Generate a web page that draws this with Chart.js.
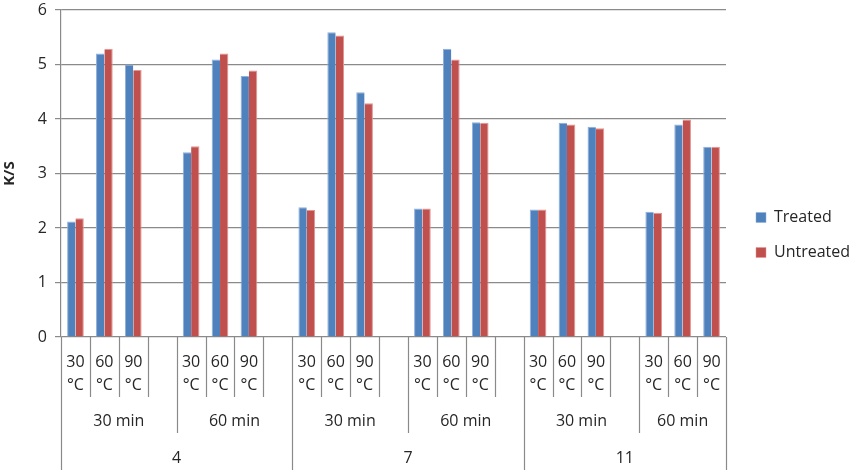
<!DOCTYPE html>
<html>
<head>
<meta charset="utf-8">
<title>K/S</title>
<script src="https://cdn.jsdelivr.net/npm/chart.js@4.4.1/dist/chart.umd.min.js"></script>
<style>
  html, body { margin: 0; padding: 0; background: #fff; }
  #wrap { width: 850px; height: 470px; position: relative; }
</style>
</head>
<body>
<div id="wrap"><canvas id="chart"></canvas></div>
<script>
// one slot per category, empty slot = gap between time groups
const temperatures = [
    '30 °C', '60 °C', '90 °C', '', '30 °C', '60 °C', '90 °C', '',
    '30 °C', '60 °C', '90 °C', '', '30 °C', '60 °C', '90 °C', '',
    '30 °C', '60 °C', '90 °C', '', '30 °C', '60 °C', '90 °C'
];
const times = [
    '30 min', '30 min', '30 min', '30 min', '60 min', '60 min', '60 min', '60 min',
    '30 min', '30 min', '30 min', '30 min', '60 min', '60 min', '60 min', '60 min',
    '30 min', '30 min', '30 min', '30 min', '60 min', '60 min', '60 min'
];
const phValues = [
    '4', '4', '4', '4', '4', '4', '4', '4',
    '7', '7', '7', '7', '7', '7', '7', '7',
    '11', '11', '11', '11', '11', '11', '11'
];
const treated = [
    2.12, 5.2, 5.0, null, 3.39, 5.09, 4.79, null,
    2.38, 5.59, 4.49, null, 2.36, 5.29, 3.94, null,
    2.34, 3.93, 3.86, null, 2.30, 3.90, 3.49
];
const untreated = [
    2.18, 5.29, 4.9, null, 3.5, 5.2, 4.89, null,
    2.33, 5.53, 4.29, null, 2.36, 5.09, 3.93, null,
    2.34, 3.90, 3.83, null, 2.28, 3.99, 3.49
];
const yMin = 0;
const yMax = 6;
const yStep = 1;

const gridColor = '#8a8a8a';
const textColor = '#262626';
const fontFamily = '"Open Sans", "Noto Sans", sans-serif';

// draws the three-level category table under the plot
const categoryTable = {
    id: 'categoryTable',
    afterDraw(chart) {
        const ctx = chart.ctx;
        const xs = chart.scales.x;
        const top = chart.chartArea.bottom;
        const n = temperatures.length;
        const slot = xs.getPixelForValue(1) - xs.getPixelForValue(0);
        const edge = i => xs.getPixelForValue(i) - slot / 2;

        ctx.save();
        ctx.strokeStyle = gridColor;
        ctx.lineWidth = 1.2;
        for (let i = 0; i <= n; i++) {
            let depth = 60;
            if (i === 0 || i === n || phValues[i] !== phValues[i - 1]) depth = chart.height - top;
            else if (times[i] !== times[i - 1]) depth = 96;
            const x = Math.round(edge(i)) + 0.5;
            ctx.beginPath();
            ctx.moveTo(x, top);
            ctx.lineTo(x, top + depth);
            ctx.stroke();
        }

        ctx.fillStyle = textColor;
        ctx.font = '16px ' + fontFamily;
        ctx.textAlign = 'center';
        ctx.textBaseline = 'middle';

        temperatures.forEach((t, i) => {
            if (!t) return;
            const parts = t.split(' ');
            const x = xs.getPixelForValue(i);
            ctx.fillText(parts[0], x, top + 25);
            ctx.fillText(parts[1], x, top + 48);
        });

        function drawRuns(keyOf, labelOf, y) {
            let start = 0;
            for (let i = 1; i <= n; i++) {
                if (i === n || keyOf(i) !== keyOf(start)) {
                    const x = (edge(start) + edge(i)) / 2;
                    ctx.fillText(labelOf(start), x, y);
                    start = i;
                }
            }
        }
        drawRuns(i => phValues[i] + '|' + times[i], i => times[i], top + 84);
        drawRuns(i => phValues[i], i => phValues[i], top + 121);
        ctx.restore();
    }
};

const ctx = document.getElementById('chart').getContext('2d');
new Chart(ctx, {
    type: 'bar',
    data: {
        labels: temperatures,
        datasets: [
            {
                label: 'Treated',
                data: treated,
                backgroundColor: '#4F81BD',
                borderColor: '#8FB0DA',
                borderWidth: { top: 1, left: 1, right: 0, bottom: 0 },
                borderSkipped: 'bottom'
            },
            {
                label: 'Untreated',
                data: untreated,
                backgroundColor: '#C0504D',
                borderColor: '#E39592',
                borderWidth: { top: 1, left: 0, right: 1, bottom: 0 },
                borderSkipped: 'bottom'
            }
        ]
    },
    options: {
        responsive: true,
        maintainAspectRatio: false,
        animation: false,
        devicePixelRatio: 1,
        categoryPercentage: 0.577,
        barPercentage: 1.0,
        layout: { padding: 0 },
        plugins: {
            legend: {
                position: 'right',
                align: 'center',
                maxWidth: 113,
                labels: {
                    boxWidth: 10,
                    boxHeight: 10,
                    padding: 19,
                    color: textColor,
                    font: { family: fontFamily, size: 16 }
                }
            },
            tooltip: { enabled: false }
        },
        scales: {
            x: {
                type: 'category',
                position: 'bottom',
                offset: true,
                grid: { display: false },
                border: { display: false },
                ticks: { display: false },
                afterFit(scale) {
                    scale.height = 133;
                    scale.paddingLeft = 0;
                    scale.paddingRight = 0;
                }
            },
            y: {
                min: yMin,
                max: yMax,
                position: 'left',
                ticks: {
                    stepSize: yStep,
                    padding: 8,
                    color: textColor,
                    font: { family: fontFamily, size: 16 }
                },
                grid: { color: gridColor, lineWidth: 1.2, tickLength: 6 },
                border: { display: true, color: gridColor, width: 1.2 },
                title: {
                    display: true,
                    text: 'K/S',
                    color: textColor,
                    padding: { top: 1, bottom: 0 },
                    font: { family: fontFamily, size: 15, weight: 'bold' }
                },
                afterFit(scale) {
                    scale.width = 61;
                    scale.paddingTop = 10;
                    scale.paddingBottom = 0;
                }
            },
            gap: {
                type: 'linear',
                position: 'right',
                display: true,
                grid: { display: false },
                border: { display: false },
                ticks: { display: false },
                afterFit(scale) {
                    scale.width = 11;
                    scale.paddingTop = 0;
                    scale.paddingBottom = 0;
                }
            }
        }
    },
    plugins: [categoryTable]
});
</script>
</body>
</html>
